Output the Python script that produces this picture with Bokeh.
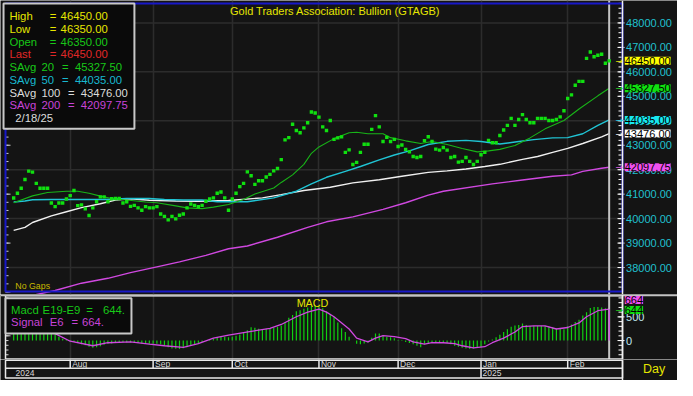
import pandas as pd
from bokeh.plotting import figure
from bokeh.layouts import column
from bokeh.models import Range1d, FixedTicker, Grid, Label, BoxAnnotation
from bokeh.embed import file_html
from bokeh.resources import INLINE
from bokeh.core.properties import value

# ---------------- data ----------------
start_date = "2024-07-11"
end_date = "2025-02-18"

close = [40840, 41040, 41240, 41600, 41940, 41900, 41440, 41240, 41240, 41240,
         40640, 40490, 40640, 40640, 40800, 40940, 41150, 40530, 40560, 40400,
         40130, 40440, 40690, 40890, 40890, 40690, 40810, 40820, 40820, 40640,
         40690, 40500, 40540, 40440, 40340, 40490, 40440, 40440, 40490, 40190,
         40090, 39950, 40090, 39990, 40140, 40190, 40440, 40600, 40540, 40490,
         40540, 40710, 40800, 40850, 41040, 41090, 40850, 40340, 40800, 41040,
         41310, 41440, 41910, 41750, 41400, 41550, 41550, 41700, 41810, 41950,
         42050, 42410, 43220, 43310, 43860, 43600, 43510, 43710, 43920, 44360,
         44320, 44150, 43750, 43600, 44010, 43240, 43300, 43340, 42710, 42810,
         42210, 42300, 42710, 43040, 43040, 43650, 44210, 43750, 43150, 43320,
         43150, 43240, 42950, 43010, 42830, 42730, 42540, 42500, 42540, 43190,
         43350, 43150, 42840, 42800, 42910, 42800, 42500, 42540, 42310, 42340,
         42500, 42340, 42210, 42340, 42610, 42710, 43200, 43100, 43100, 43400,
         43620, 43810, 44100, 43810, 44050, 44250, 44050, 43920, 43920, 44100,
         44100, 44100, 44010, 44010, 44050, 44160, 44410, 44910, 45060, 45450,
         45610, 45610, 46550, 46810, 46620, 46680, 46720, 46350, 46450]

high_v, low_v, open_v = 46450, 46350, 46350

sma20_idx = [0, 5, 9, 14, 17, 20, 23, 26, 30, 35, 38, 43, 46, 50, 53, 57, 61, 64, 69, 71,
             74, 77, 79, 81, 85, 89, 91, 94, 98, 100, 104, 108, 111, 115, 119, 123, 126,
             129, 133, 137, 141, 146, 150, 155, 158]
sma20_val = [40650, 40930, 41070, 41120, 41120, 41040, 40920, 40820, 40760, 40680, 40650,
             40520, 40440, 40410, 40470, 40580, 40780, 41010, 41250, 41480, 41790, 42220,
             42670, 42930, 43270, 43510, 43530, 43470, 43470, 43310, 43180, 43070, 43150,
             43030, 42870, 42730, 42770, 42830, 42990, 43300, 43670, 44010, 44480, 45020,
             45327.50]

sma50_idx = [0, 3, 5, 10, 24, 30, 36, 40, 45, 50, 54, 62, 69, 75, 79, 83, 88, 92, 97, 101,
             105, 110, 115, 120, 124, 129, 134, 138, 143, 147, 151, 155, 158]
sma50_val = [40680, 40720, 40770, 40780, 40780, 40820, 40820, 40780, 40760, 40760, 40690,
             40690, 40850, 41120, 41420, 41690, 41930, 42130, 42400, 42600, 42770, 43030,
             43160, 43200, 43150, 43050, 43150, 43230, 43300, 43310, 43470, 43810, 44035.00]

sma100_idx = [0, 3, 5, 10, 14, 18, 23, 27, 31, 36, 43, 49, 57, 66, 71, 77, 84, 90, 97, 103,
              110, 115, 120, 125, 129, 135, 139, 143, 147, 151, 156, 158]
sma100_val = [39520, 39640, 39840, 40110, 40280, 40450, 40610, 40760, 40810, 40750, 40720,
              40710, 40740, 40850, 40980, 41150, 41280, 41460, 41590, 41730, 41890, 41950,
              42030, 42130, 42220, 42420, 42540, 42710, 42870, 43070, 43340, 43476.00]

sma200_idx = [0, 11, 18, 25, 31, 38, 44, 51, 57, 62, 70, 78, 83, 90, 98, 104, 110, 114,
              127, 135, 143, 148, 151, 156, 158]
sma200_val = [36700, 37060, 37360, 37560, 37790, 38030, 38230, 38500, 38770, 38880, 39240,
              39640, 39870, 40070, 40380, 40650, 40960, 41120, 41420, 41580, 41730, 41790,
              41930, 42060, 42097.75]

macd = [260, 270, 290, 320, 360, 380, 360, 330, 300, 270,
        200, 130, 80, 40, 20, -20, -30, -50, -80, -100,
        -130, -150, -140, -120, -90, -70, -60, -50, -40, -30,
        -40, -40, -50, -50, -60, -70, -70, -70, -70, -80,
        -110, -140, -170, -175, -180, -165, -140, -110, -80, -60,
        -30, 0, 20, 40, 60, 80, 80, 70, 80, 100,
        130, 160, 220, 280, 270, 250, 245, 250, 260, 270,
        290, 320, 380, 480, 540, 620, 640, 670, 700, 730,
        740, 720, 680, 620, 560, 500, 380, 260, 180, 80,
        0, -70, -80, -60, -40, 60, 150, 150, 100, 80,
        70, 50, 10, -10, -30, -50, -80, -110, -140, -80,
        -60, -40, -40, -40, -50, -50, -80, -110, -130, -150,
        -170, -180, -170, -150, -140, -80, -20, 20, 70, 120,
        180, 240, 290, 320, 330, 360, 330, 310, 310, 310,
        310, 310, 300, 280, 260, 250, 240, 300, 340, 390,
        440, 530, 600, 690, 710, 710, 700, 680, 644]

signal_idx = [0, 3, 5, 8, 11, 15, 21, 25, 31, 36, 40, 45, 49, 53, 57, 63, 68, 71, 75, 78,
              81, 83, 85, 89, 91, 94, 96, 98, 101, 104, 106, 109, 111, 114, 117, 119, 122,
              125, 127, 130, 133, 135, 138, 141, 144, 147, 150, 152, 155, 158]
signal_val = [250, 290, 320, 280, 147, -14, -110, -46, -27, -77, -110, -143, -66, 50, 116,
              193, 257, 340, 503, 600, 663, 600, 503, 244, 50, -27, 50, 103, 83, 39, -27,
              -77, -46, -46, -66, -110, -155, -130, -46, 50, 180, 296, 309, 309, 244, 276,
              373, 503, 630, 664]

# axis tick values
price_ticks = list(range(38000, 48001, 1000))
price_minor = list(range(37200, 48801, 200))
price_grid = list(range(38000, 48001, 2000))
macd_ticks = [0, 500]
macd_minor = list(range(-400, 901, 100))

# ---------------- derived positions ----------------
dates = pd.bdate_range(start_date, end_date)
idx = list(range(len(close)))
last = idx[-1]
month_starts = [i for i in range(1, len(dates)) if dates[i].month != dates[i - 1].month]
month_names = [dates[i].strftime("%b") for i in month_starts]
year_starts = [0] + [i for i in month_starts if dates[i].year != dates[i - 1].year]
year_names = [str(dates[i].year) for i in year_starts]
d_last = dates[-1]
date_txt = f"{d_last.month}/{d_last.day}/{d_last.year % 100:02d}"
left_minor = [m + j * 2000 / 6 for m in range(36000, 49000, 2000) for j in range(6)]

# ---------------- layout helpers ----------------
W = 677
HA, HB, HC = 294, 65, 21
X_START, X_END = -3.494, 176.13          # data-x span of the full canvas width
PA_Y = (36898, 48917)
PB_Y = (-400.3, 972.8)


def ax(xr):
    """reference x -> canvas x"""
    if xr <= 632:
        return 5 + (xr - 5) * 617 / 627
    return 622 + (xr - 632) * 55 / 61


def dx(cx_):
    """canvas x -> data x"""
    return X_START + cx_ * (X_END - X_START) / W


def cyA(yr):
    return 3 + (yr - 3) * 288 / 292


def cyB(yr):
    return (yr - 299) * 65 / 71


def cyC(yr):
    return (yr - 370) * 21 / 26


FONT = "Liberation Sans"
BG = "#141414"
GRID = "#2c2c2c"
BLUE = "#1818c8"
YEL = "#e6e600"
GRN_T = "#18c818"
RED_T = "#e02828"
CYA_T = "#18b8d0"
WHT_T = "#dcdcdc"
MAG_T = "#c844d8"
AX_CYAN = "#20c0d0"
DOT = "#10e010"
CURSOR = "#c4c4c4"
L20, L50, L100, L200 = "#18b418", "#20c4d4", "#f0f0f0", "#d048e0"
AXIS_X = 622
TAG_FONT = "11px"


def clabel(fig, x, y, text, color, size="11.3px", align="left", font=FONT, **kw):
    fig.add_layout(Label(x=x, y=y, x_units="canvas", y_units="canvas",
                         text=text, text_color=color, text_font=font,
                         text_font_size=size, text_align=align,
                         text_baseline="middle", **kw))


def cbox(fig, l, t, r, b, fill=None, line=None, lw=0):
    fig.add_layout(BoxAnnotation(left=l, right=r, top=t, bottom=b,
                                 left_units="canvas", right_units="canvas",
                                 top_units="canvas", bottom_units="canvas",
                                 fill_color=fill, fill_alpha=1.0 if fill else 0.0,
                                 line_color=line, line_width=lw,
                                 line_alpha=1.0 if line else 0.0))


def tag(fig, v, text, bg, y_offset=0):
    fig.add_layout(Label(x=ax(634.5), y=v, y_offset=y_offset, x_units="canvas",
                         y_units="data", text=text, text_color="black", text_font=FONT,
                         text_font_size=TAG_FONT, text_align="left", text_baseline="middle",
                         background_fill_color=bg, background_fill_alpha=1.0))


def arrow(fig, v, col):
    fig.add_layout(Label(x=ax(625), y=v, x_units="canvas", y_units="data", text="→",
                         text_color=col, text_font="DejaVu Sans", text_font_size="9px",
                         text_align="left", text_baseline="middle"))


xr = Range1d(X_START, X_END)
common = dict(width=W, output_backend="svg", toolbar_location=None, x_range=xr,
              x_axis_location=None, y_axis_location=None,
              min_border_left=0, min_border_right=0, min_border_top=0, min_border_bottom=0,
              background_fill_color=BG, border_fill_color=BG, outline_line_color=None)


def right_axis(fig, major, minor, labels, color):
    fig.segment(x0=[dx(AXIS_X - 4)] * len(minor), y0=minor, x1=[dx(AXIS_X)] * len(minor),
                y1=minor, line_color="white", line_width=1)
    fig.segment(x0=[dx(AXIS_X - 5)] * len(major), y0=major, x1=[dx(AXIS_X + 2)] * len(major),
                y1=major, line_color="white", line_width=1)
    fig.text(x=[dx(ax(636))] * len(major), y=major, text=labels, text_color=color,
             text_font=value(FONT), text_font_size="11px", text_align="left",
             text_baseline="middle")


def left_ticks(fig, vals, major_every):
    longs = [v for k, v in enumerate(vals) if k % major_every == 0]
    fig.segment(x0=[dx(5)] * len(vals), y0=vals, x1=[dx(8)] * len(vals), y1=vals,
                line_color="#d0d0d0", line_width=1)
    fig.segment(x0=[dx(5)] * len(longs), y0=longs, x1=[dx(10)] * len(longs), y1=longs,
                line_color="#d0d0d0", line_width=1)


# ================= price panel =================
pa = figure(height=HA, y_range=Range1d(*PA_Y), **common)
pa.grid.visible = False
pa.add_layout(Grid(dimension=0, ticker=FixedTicker(ticks=month_starts),
                   grid_line_color=GRID, grid_line_width=1.5))
pa.segment(x0=[dx(5)] * len(price_grid), y0=price_grid, x1=[dx(AXIS_X)] * len(price_grid),
           y1=price_grid, line_color=GRID, line_width=1.5)

pa.line(sma200_idx, sma200_val, line_color=L200, line_width=1.4)
pa.line(sma100_idx, sma100_val, line_color=L100, line_width=1.4)
pa.line(sma50_idx, sma50_val, line_color=L50, line_width=1.4)
pa.line(sma20_idx, sma20_val, line_color=L20, line_width=1.1)
pa.segment(x0=[last], y0=[PA_Y[0]], x1=[last], y1=[PA_Y[1]], line_color=CURSOR, line_width=2)
pa.scatter(idx, close, marker="square", size=3.4, fill_color=DOT, line_color=None)

right_axis(pa, price_ticks, price_minor, [f"{t:.2f}" for t in price_ticks], AX_CYAN)
left_ticks(pa, [v for v in left_minor if 36900 < v < 48900], 6)

# frame borders
cbox(pa, 5, 3, AXIS_X, cyA(295), line=BLUE, lw=2)
cbox(pa, AXIS_X - 0.75, 0, AXIS_X + 0.75, HA, fill="#f0f0f0")

clabel(pa, ax(340), cyA(11), "Gold Traders Association: Bullion (GTAGB)", YEL,
       size="11px", align="center")
clabel(pa, ax(15), cyA(289.5), "No Gaps", "#c8b800", size="8.8px")

# legend box
cbox(pa, ax(3), cyA(3), ax(136), cyA(130), fill="#0a0a0a", line="#c8c8c8", lw=2)
rows = [("High", "", 50, 61, high_v, YEL),
        ("Low", "", 50, 61, low_v, YEL),
        ("Open", "", 50, 61, open_v, GRN_T),
        ("Last", "", 50, 61, close[-1], RED_T),
        ("SAvg", "20", 62.5, 75.5, sma20_val[-1], GRN_T),
        ("SAvg", "50", 62.5, 75.5, sma50_val[-1], CYA_T),
        ("SAvg", "100", 68.5, 81.5, sma100_val[-1], WHT_T),
        ("SAvg", "200", 68.5, 81.5, sma200_val[-1], MAG_T)]
for k, (name, num, xeq, xval, v, col) in enumerate(rows):
    yy = cyA(15.7 + 12.95 * k)
    clabel(pa, ax(9), yy, name, col)
    if num:
        clabel(pa, ax(41.5), yy, num, col)
    clabel(pa, ax(xeq), yy, "=", col)
    clabel(pa, ax(xval), yy, f"{v:.2f}", col)
clabel(pa, ax(15), cyA(119.3), date_txt, WHT_T)

# value tags on the right
tags = [(close[-1], "#ffff00", YEL), (sma20_val[-1], "#10e010", "#20d020"),
        (sma50_val[-1], "#18e8f0", "#20c8e0"), (sma100_val[-1], "#ffffff", "#f0f0f0"),
        (sma200_val[-1], "#f050f0", "#e060e0")]
for v, bg, arrow_col in tags:
    arrow(pa, v, arrow_col)
    tag(pa, v, f"{v:.2f}", bg)

# ================= MACD panel =================
pb = figure(height=HB, y_range=Range1d(*PB_Y), **common)
pb.grid.visible = False
pb.add_layout(Grid(dimension=0, ticker=FixedTicker(ticks=month_starts),
                   grid_line_color=GRID, grid_line_width=1.5))

pb.segment(x0=idx, y0=[0] * len(idx), x1=idx, y1=macd, line_color="#10d010", line_width=1.2)
pb.line(signal_idx, signal_val, line_color=L200, line_width=1.3)
pb.segment(x0=[last], y0=[PB_Y[0]], x1=[last], y1=[PB_Y[1]], line_color=CURSOR, line_width=2)
pb.segment(x0=[last], y0=[0], x1=[last], y1=[signal_val[-1]], line_color=L200, line_width=1.3)

right_axis(pb, macd_ticks, macd_minor, [str(t) for t in macd_ticks], "#c0e8f0")
left_ticks(pb, macd_minor, 5)

cbox(pb, 5, cyB(300.5), AXIS_X, HB - 0.5, line="#e8e8e8", lw=1.5)
cbox(pb, 0, 0, W, cyB(300.8), fill="#c4c4c4")
cbox(pb, AXIS_X - 0.75, 0, AXIS_X + 0.75, HB, fill="#f0f0f0")

clabel(pb, ax(317), cyB(308), "MACD", YEL, size="10.8px", align="center")
cbox(pb, ax(5), cyB(303), ax(133), cyB(341.5), fill="#0a0a0a", line="#c8c8c8", lw=2)
clabel(pb, ax(10.7), cyB(315.7), "Macd", GRN_T)
clabel(pb, ax(42.7), cyB(315.7), "E19-E9", GRN_T)
clabel(pb, ax(87), cyB(315.7), "=", GRN_T)
clabel(pb, ax(104), cyB(315.7), f"{macd[-1]}.", GRN_T)
clabel(pb, ax(10.7), cyB(329), "Signal", MAG_T)
clabel(pb, ax(50), cyB(329), "E6", MAG_T)
clabel(pb, ax(72), cyB(329), "=", MAG_T)
clabel(pb, ax(82.7), cyB(329), f"{signal_val[-1]}.", MAG_T)

arrow(pb, macd[-1], "#20d020")
tag(pb, signal_val[-1], f"{signal_val[-1]}", "#f050f0", y_offset=9)
tag(pb, macd[-1], f"{macd[-1]}", "#10e010")

# ================= date strip =================
ROW_SPLIT = 1 - cyC(380.7) / HC
ROW_BOTTOM = 1 - cyC(393) / HC
pc = figure(height=HC, y_range=Range1d(0, 1), **common)
pc.grid.visible = False
pc.segment(x0=month_starts, y0=[ROW_SPLIT] * len(month_starts), x1=month_starts,
           y1=[1] * len(month_starts), line_color="#e8e8e8", line_width=1.5)
ys = year_starts[1:]
pc.segment(x0=ys, y0=[ROW_BOTTOM] * len(ys), x1=ys, y1=[ROW_SPLIT] * len(ys),
           line_color="#e8e8e8", line_width=1.5)
pc.text(x=month_starts, y=[(1 + ROW_SPLIT) / 2] * len(month_starts), text=month_names,
        x_offset=2, text_color="#d8d8d8", text_font=value(FONT), text_font_size="8.5px",
        text_baseline="middle", text_align="left")
pc.text(x=year_starts, y=[(ROW_SPLIT + ROW_BOTTOM) / 2] * len(year_starts), text=year_names,
        x_offset=[1.8] + [1.5] * (len(year_starts) - 1), text_color="#d8d8d8",
        text_font=value(FONT), text_font_size="8.5px",
        text_baseline="middle", text_align="left")
cbox(pc, 5, 0.75, AXIS_X, cyC(393), line="#e8e8e8", lw=1.5)
cbox(pc, 5, cyC(380.7) - 0.75, AXIS_X, cyC(380.7) + 0.75, fill="#e8e8e8")
cbox(pc, AXIS_X - 0.75, 0, AXIS_X + 0.75, HC, fill="#f0f0f0")
clabel(pc, ax(667), cyC(381.5), "Day", YEL, size="12.5px", align="center")

layout = column(pa, pb, pc)
open("out.html", "w").write(file_html(layout, INLINE))
